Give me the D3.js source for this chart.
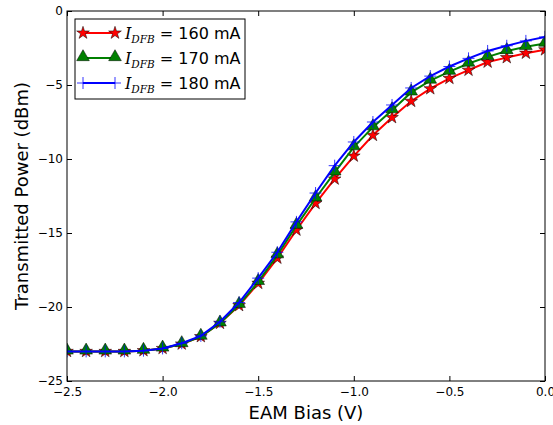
<!DOCTYPE html>
<html>
<head>
<meta charset="utf-8">
<script src="https://cdn.jsdelivr.net/npm/d3@7"></script>
<style>
body { margin: 0; background: #fff; }
text { font-family: "DejaVu Sans", sans-serif; }
</style>
</head>
<body>
<svg id="chart"></svg>
<script>
// EAM bias sweep, one point every 0.1 V
var bias = [-2.5, -2.4, -2.3, -2.2, -2.1, -2.0, -1.9, -1.8, -1.7, -1.6, -1.5, -1.4, -1.3,
            -1.2, -1.1, -1.0, -0.9, -0.8, -0.7, -0.6, -0.5, -0.4, -0.3, -0.2, -0.1, 0.0];

var p160 = [-23.0, -23.0, -23.0, -23.0, -22.95, -22.8, -22.5, -22.0, -21.1, -19.9, -18.4, -16.7, -14.8,
            -13.0, -11.35, -9.8, -8.4, -7.2, -6.1, -5.25, -4.55, -4.0, -3.45, -3.15, -2.85, -2.62];
var p170 = [-23.0, -23.0, -23.0, -23.0, -22.95, -22.8, -22.5, -22.0, -21.1, -19.85, -18.3, -16.5, -14.5,
            -12.65, -10.9, -9.2, -7.85, -6.7, -5.5, -4.7, -4.1, -3.55, -3.1, -2.7, -2.42, -2.2];
var p180 = [-23.0, -23.0, -23.0, -23.0, -22.95, -22.8, -22.45, -21.95, -21.0, -19.7, -18.05, -16.3, -14.25,
            -12.3, -10.45, -8.85, -7.5, -6.35, -5.2, -4.4, -3.75, -3.2, -2.7, -2.35, -2.02, -1.75];

var seriesNames = ["160", "170", "180"];
var xTicks = [-2.5, -2.0, -1.5, -1.0, -0.5, 0.0];
var yTicks = [0, -5, -10, -15, -20, -25];

var width = 553, height = 425;
var margin = {left: 67, right: 8, top: 11, bottom: 44};

var svg = d3.select("#chart")
    .attr("width", width)
    .attr("height", height);

var x = d3.scaleLinear().domain([-2.5, 0]).range([margin.left, width - margin.right]);
var y = d3.scaleLinear().domain([-25, 0]).range([height - margin.bottom, margin.top]);

var fmt = function(d) { return d3.format(".1f")(d).replace("-", "\u2212"); };
var fmtY = function(d) { return String(d).replace("-", "\u2212"); };

// clip for lines
svg.append("clipPath").attr("id", "clip")
  .append("rect")
    .attr("x", margin.left).attr("y", margin.top)
    .attr("width", x.range()[1] - margin.left)
    .attr("height", y.range()[0] - margin.top);

var series = [
  {name: seriesNames[0], values: p160, color: "#ff0000", marker: "star"},
  {name: seriesNames[1], values: p170, color: "#008000", marker: "tri"},
  {name: seriesNames[2], values: p180, color: "#0000ff", marker: "plus"}
];

var line = d3.line()
    .x(function(d, i) { return x(bias[i]); })
    .y(function(d) { return y(d); });

var starPath = d3.symbol().type(d3.symbolStar).size(50);
var triPath = d3.symbol().type(d3.symbolTriangle).size(70);

function drawMarker(g, type, color, cx, cy) {
  if (type === "star") {
    g.append("path").attr("d", starPath())
      .attr("transform", "translate(" + cx + "," + cy + ")")
      .attr("fill", color).attr("stroke", "#000").attr("stroke-width", 0.5);
  } else if (type === "tri") {
    g.append("path").attr("d", triPath())
      .attr("transform", "translate(" + cx + "," + (cy - 1) + ")")
      .attr("fill", color).attr("stroke", "#000").attr("stroke-width", 0.5);
  } else {
    g.append("path")
      .attr("d", "M" + (cx - 6) + "," + cy + "H" + (cx + 6) + "M" + cx + "," + (cy - 6) + "V" + (cy + 6))
      .attr("stroke", color).attr("stroke-width", 0.8).attr("fill", "none");
  }
}

var plot = svg.append("g").attr("clip-path", "url(#clip)");

series.forEach(function(s) {
  var g = plot.append("g");
  g.append("path")
    .datum(s.values)
    .attr("d", line)
    .attr("fill", "none")
    .attr("stroke", s.color)
    .attr("stroke-width", 2);
  s.values.forEach(function(v, i) {
    drawMarker(g, s.marker, s.color, x(bias[i]), y(v));
  });
});

// frame
svg.append("rect")
  .attr("x", margin.left).attr("y", margin.top)
  .attr("width", x.range()[1] - margin.left)
  .attr("height", y.range()[0] - margin.top)
  .attr("fill", "none").attr("stroke", "#000").attr("stroke-width", 1);

// axes with inward ticks on all sides
var xAxis = svg.append("g")
  .attr("transform", "translate(0," + y(-25) + ")")
  .call(d3.axisBottom(x).tickValues(xTicks).tickSize(-5).tickPadding(8).tickFormat(fmt));
var xTop = svg.append("g")
  .attr("transform", "translate(0," + y(0) + ")")
  .call(d3.axisTop(x).tickValues(xTicks).tickSize(-5).tickFormat(""));
var yAxis = svg.append("g")
  .attr("transform", "translate(" + x(-2.5) + ",0)")
  .call(d3.axisLeft(y).tickValues(yTicks).tickSize(-5).tickPadding(8).tickFormat(fmtY));
var yRight = svg.append("g")
  .attr("transform", "translate(" + x(0) + ",0)")
  .call(d3.axisRight(y).tickValues(yTicks).tickSize(-5).tickFormat(""));

[xAxis, xTop, yAxis, yRight].forEach(function(a) {
  a.select(".domain").remove();
  a.selectAll("line").attr("stroke", "#000");
  a.selectAll("text").attr("font-size", 12).attr("fill", "#000")
    .style("font-family", "'DejaVu Sans', sans-serif");
});
xAxis.selectAll("text").attr("dy", "0.71em").attr("y", 6);
yAxis.selectAll("text").attr("x", -4);

// axis titles
svg.append("text")
  .attr("x", (margin.left + x.range()[1]) / 2)
  .attr("y", 419)
  .attr("text-anchor", "middle")
  .attr("font-size", 18)
  .text("EAM Bias (V)");

svg.append("text")
  .attr("transform", "translate(28," + ((margin.top + y.range()[0]) / 2) + ") rotate(-90)")
  .attr("text-anchor", "middle")
  .attr("font-size", 18)
  .text("Transmitted Power (dBm)");

// legend
var leg = svg.append("g").attr("transform", "translate(75,19)");
leg.append("rect")
  .attr("width", 170).attr("height", 80)
  .attr("fill", "#fff").attr("stroke", "#000").attr("stroke-width", 1);

series.forEach(function(s, i) {
  var cy = 14 + i * 25;
  var row = leg.append("g");
  row.append("line")
    .attr("x1", 8).attr("x2", 40).attr("y1", cy).attr("y2", cy)
    .attr("stroke", s.color).attr("stroke-width", 2);
  drawMarker(row, s.marker, s.color, 8, cy);
  drawMarker(row, s.marker, s.color, 40, cy);
  var t = row.append("text")
    .attr("x", 50).attr("y", cy + 5.5)
    .attr("font-size", 16);
  t.append("tspan")
    .attr("font-style", "italic")
    .style("font-family", "'DejaVu Serif', serif")
    .text("I");
  t.append("tspan")
    .attr("font-style", "italic")
    .attr("font-size", 10.5)
    .attr("dy", 4)
    .style("font-family", "'DejaVu Serif', serif")
    .text("DFB");
  t.append("tspan")
    .attr("dy", -4)
    .text(" = " + s.name + " mA");
});
</script>
</body>
</html>
